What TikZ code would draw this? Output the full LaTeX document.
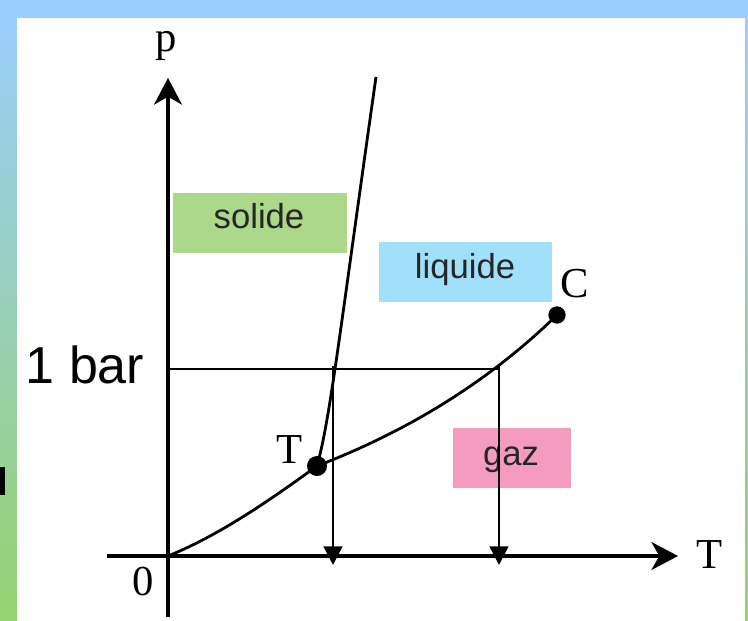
\documentclass[tikz,border=0pt]{standalone}
\usepackage{fontspec}
\setmainfont{Liberation Serif}
\newfontfamily\regionfont{Liberation Sans}
\usetikzlibrary{arrows.meta}
\definecolor{skyband}{RGB}{155,205,255}
\definecolor{grassband}{RGB}{150,210,112}
\definecolor{solidefill}{RGB}{172,216,138}
\definecolor{liquidefill}{RGB}{160,224,250}
\definecolor{gazfill}{RGB}{245,155,192}
\tikzset{
  axis/.style={line width=2.3pt,-{Stealth[length=20pt,width=21pt,inset=6pt]}},
  curve/.style={line width=2.1pt},
  barline/.style={line width=1.6pt},
  droparrow/.style={line width=1.8pt,-{Triangle[length=14pt,width=14pt]}},
  regionlabel/.style={anchor=base,inner sep=0pt,text=black!85,font=\regionfont\fontsize{26}{30}\selectfont},
  letter/.style={anchor=base,inner sep=0pt,font=\fontsize{32}{36}\selectfont},
}

\begin{document}
\begin{tikzpicture}[x=0.75pt,y=-0.75pt,>=Stealth]
\useasboundingbox (0,0) rectangle (748,620);
% ---------- frame: coloured band round the white sheet ----------
\shade[top color=skyband,bottom color=grassband] (0,0) rectangle (748,620);
\fill[skyband] (0,0) rectangle (748,18);
\fill[white] (17,18) rectangle (745,622);
\fill[black] (0,467) rectangle (5,495);

% ---------- key points ----------
\coordinate (O) at (168,556);
\coordinate (pBottom) at (168,617);
\coordinate (pTop) at (168,78);
\coordinate (TLeft) at (107,556);
\coordinate (TRight) at (678,556);
\coordinate (triple) at (317,466);
\coordinate (crit) at (557,315);
\coordinate (fusTop) at (376,77);
\coordinate (barStart) at (168,369);
\coordinate (barEnd) at (500,369);
\coordinate (meltTop) at (333,366);
\coordinate (meltFoot) at (333,565);
\coordinate (boilTop) at (499,366);
\coordinate (boilFoot) at (499,565);

% ---------- regions ----------
\fill[solidefill] (173,193) rectangle (347,253);
\fill[liquidefill] (379,242) rectangle (552,302);
\fill[gazfill] (453,428) rectangle (571,488);
\node[regionlabel] (solide) at (259,228) {solide};
\node[regionlabel] (liquide) at (465,278) {liquide};
\node[regionlabel] (gaz) at (511,465) {gaz};

% ---------- axes ----------
\draw[axis] (pBottom) -- (pTop);
\draw[axis] (TLeft) -- (TRight);
\node[letter] (plabel) at (166,52) {p};
\node[letter] (Tlabel) at (710,568) {T};
\node[letter] (zero) at (143,595) {0};

% ---------- phase boundaries ----------
\draw[curve] (O) .. controls (220,535) and (270,500) .. (triple);
\draw[curve] (triple) .. controls (395,436) and (480,390) .. (crit);
\draw[curve] (triple) .. controls (330,420) and (340,330) .. (fusTop);
\fill (triple) circle (7.5pt);
\fill (crit) circle (6.5pt);
\node[letter] (tripleLabel) at (290,463) {T};
\node[letter] (critLabel) at (575,297) {C};

% ---------- 1 bar line and its two temperatures ----------
\draw[barline] (barStart) -- (barEnd);
\draw[droparrow] (meltTop) -- (meltFoot);
\draw[droparrow] (boilTop) -- (boilFoot);
\node[anchor=base,inner sep=0pt,font=\regionfont\fontsize{39}{44}\selectfont] (bar) at (85,383) {1 bar};
\end{tikzpicture}
\end{document}
